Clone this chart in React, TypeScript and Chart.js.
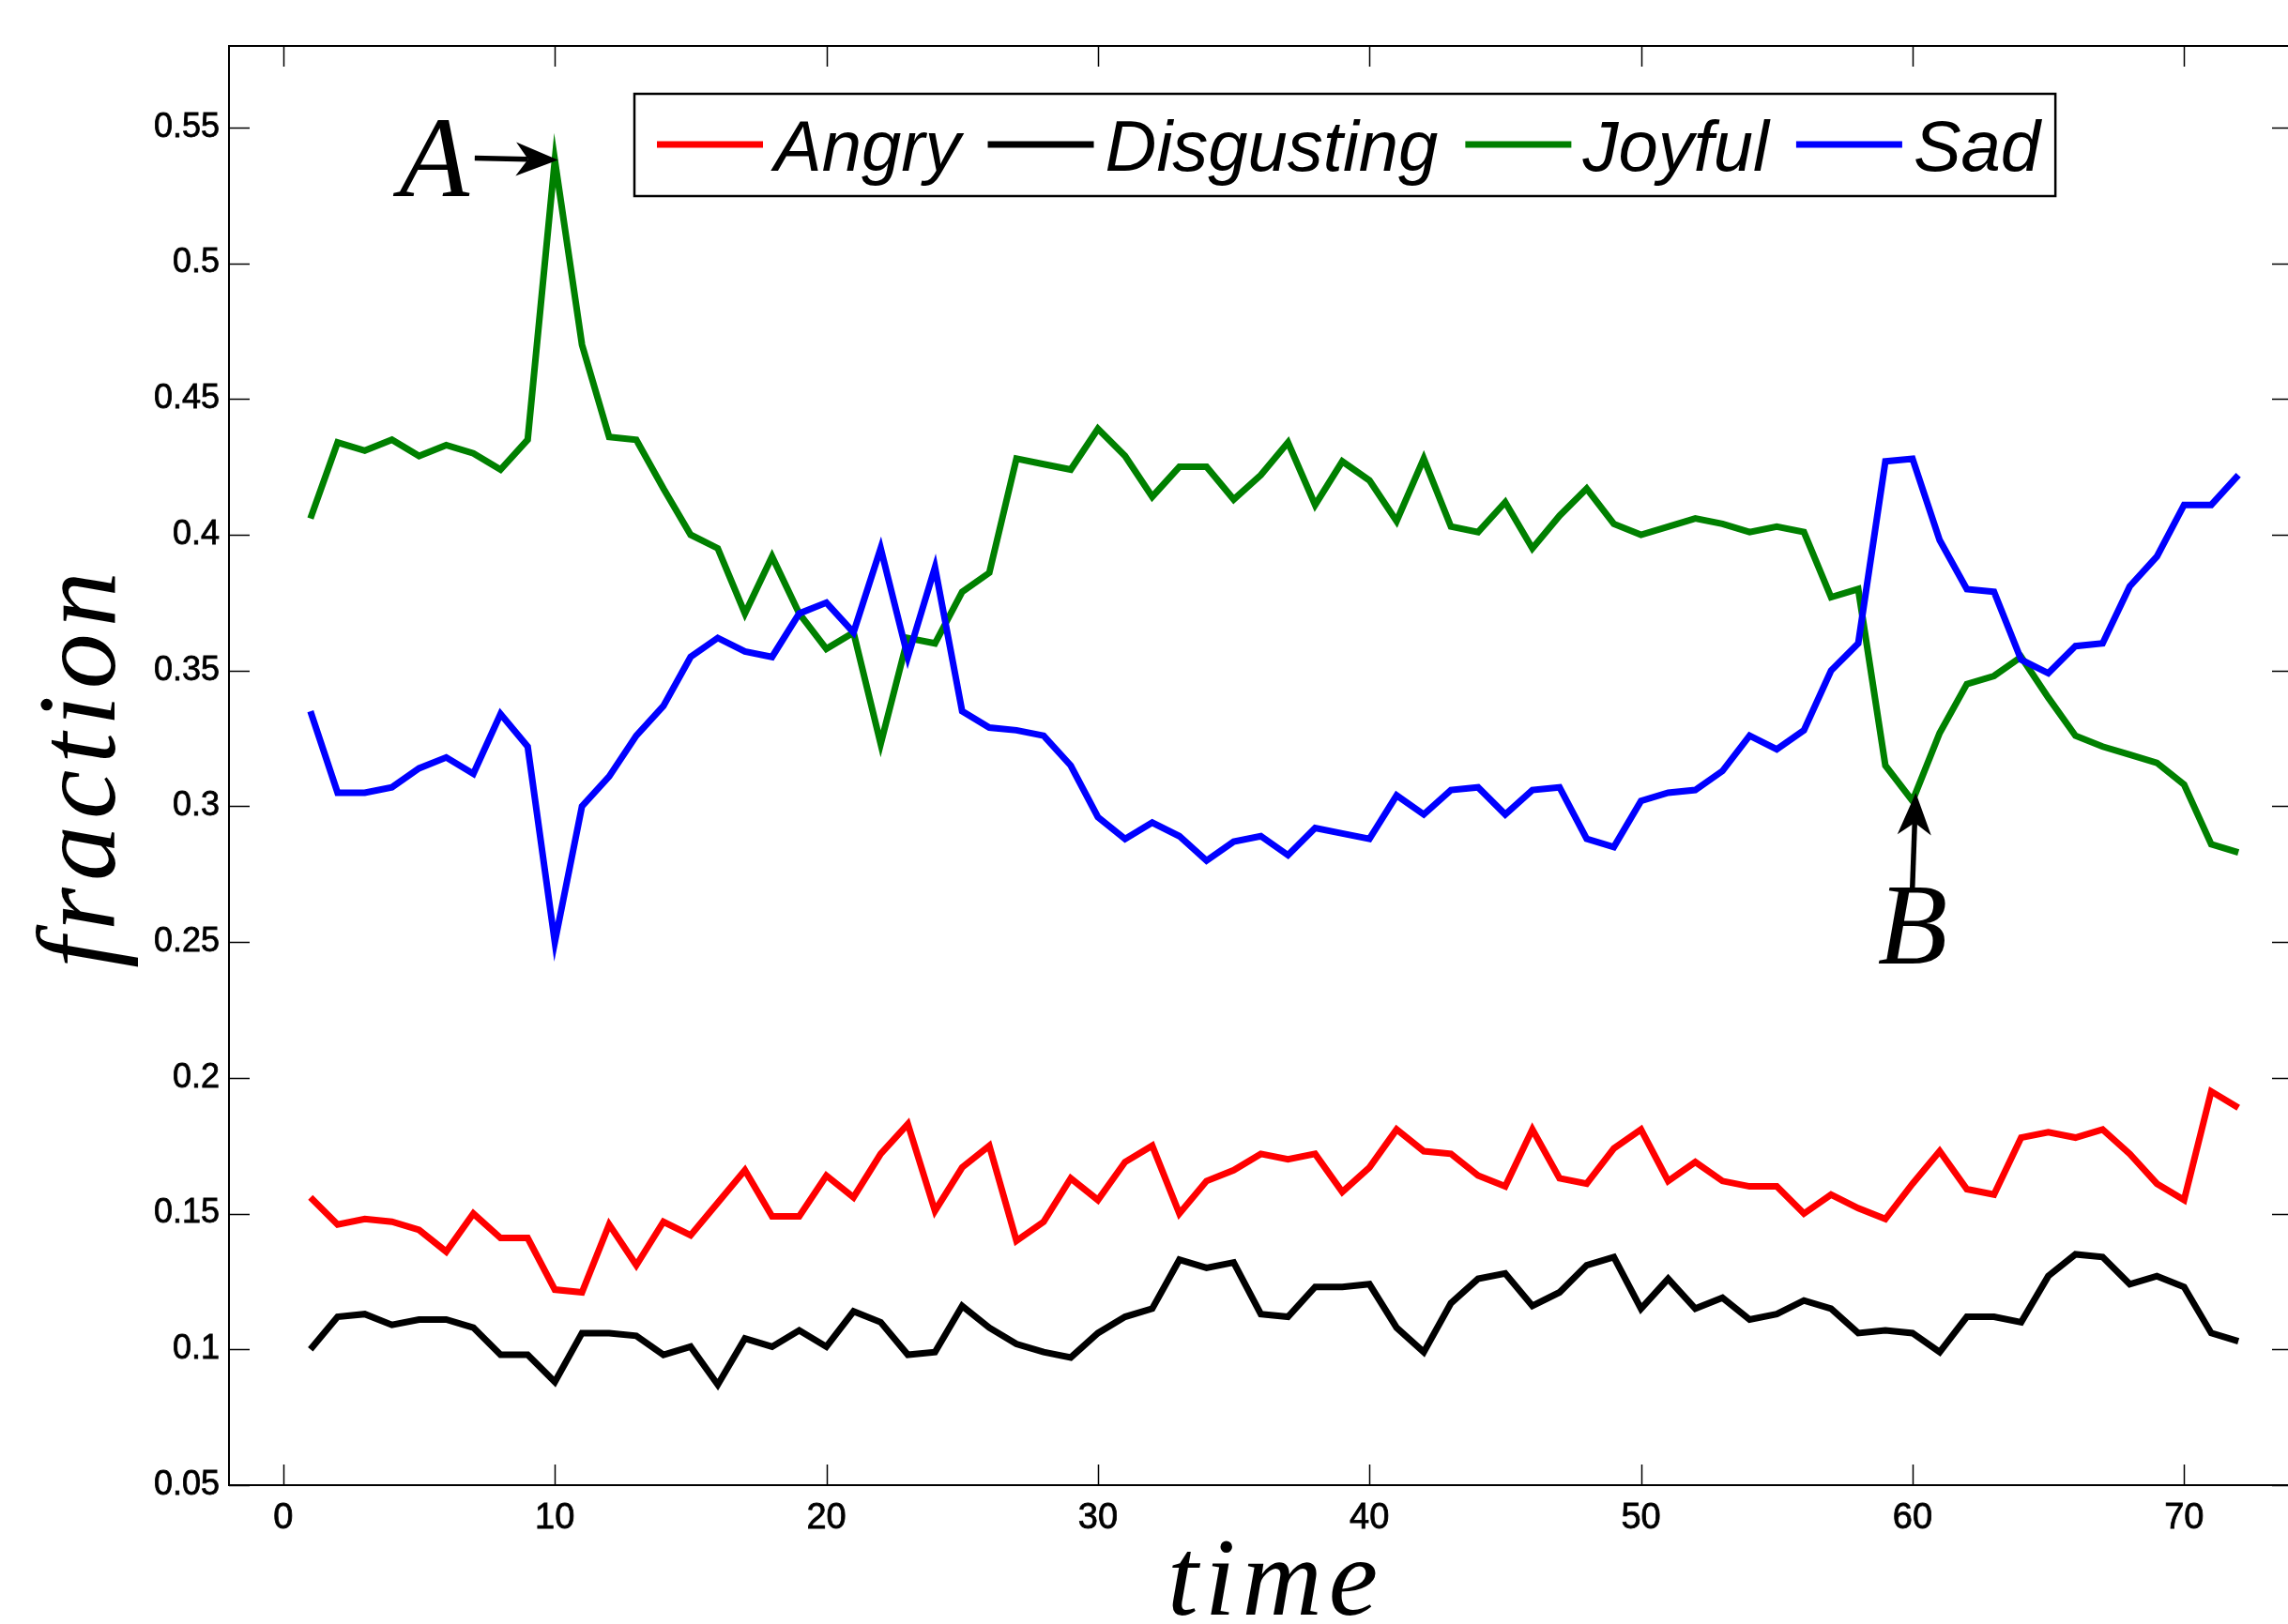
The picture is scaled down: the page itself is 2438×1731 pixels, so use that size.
import React, { useEffect, useRef } from "react";
import { Chart, registerables } from "chart.js";

Chart.register(...registerables);

// ---------------- data ----------------
const TIME = [
  1, 2, 3, 4, 5, 6, 7, 8, 9, 10, 11, 12, 13, 14, 15, 16, 17, 18, 19, 20, 21, 22, 23, 24,
  25, 26, 27, 28, 29, 30, 31, 32, 33, 34, 35, 36, 37, 38, 39, 40, 41, 42, 43, 44, 45, 46, 47, 48,
  49, 50, 51, 52, 53, 54, 55, 56, 57, 58, 59, 60, 61, 62, 63, 64, 65, 66, 67, 68, 69, 70, 71, 72,
];

const ANGRY = [
  0.156, 0.146, 0.148, 0.147, 0.144, 0.136, 0.150, 0.141, 0.141, 0.122,
  0.121, 0.146, 0.131, 0.147, 0.142, 0.154, 0.166, 0.149, 0.149, 0.164,
  0.156, 0.172, 0.183, 0.151, 0.167, 0.175, 0.140, 0.147, 0.163, 0.155,
  0.169, 0.175, 0.150, 0.162, 0.166, 0.172, 0.170, 0.172, 0.158, 0.167,
  0.181, 0.173, 0.172, 0.164, 0.160, 0.181, 0.163, 0.161, 0.174, 0.181,
  0.162, 0.169, 0.162, 0.160, 0.160, 0.150, 0.157, 0.152, 0.148, 0.161,
  0.173, 0.159, 0.157, 0.178, 0.180, 0.178, 0.181, 0.172, 0.161, 0.155,
  0.195, 0.189,
];

const DISGUSTING = [
  0.100, 0.112, 0.113, 0.109, 0.111, 0.111, 0.108, 0.098, 0.098, 0.088,
  0.106, 0.106, 0.105, 0.098, 0.101, 0.087, 0.104, 0.101, 0.107, 0.101,
  0.114, 0.110, 0.098, 0.099, 0.116, 0.108, 0.102, 0.099, 0.097, 0.106,
  0.112, 0.115, 0.133, 0.130, 0.132, 0.113, 0.112, 0.123, 0.123, 0.124,
  0.108, 0.099, 0.117, 0.126, 0.128, 0.116, 0.121, 0.131, 0.134, 0.115,
  0.126, 0.115, 0.119, 0.111, 0.113, 0.118, 0.115, 0.106, 0.107, 0.106,
  0.099, 0.112, 0.112, 0.110, 0.127, 0.135, 0.134, 0.124, 0.127, 0.123,
  0.106, 0.103,
];

const JOYFUL = [
  0.406, 0.434, 0.431, 0.435, 0.429, 0.433, 0.430, 0.424, 0.435, 0.538,
  0.470, 0.436, 0.435, 0.417, 0.400, 0.395, 0.371, 0.392, 0.371, 0.358,
  0.364, 0.323, 0.362, 0.360, 0.379, 0.386, 0.428, 0.426, 0.424, 0.439,
  0.429, 0.414, 0.425, 0.425, 0.413, 0.422, 0.434, 0.411, 0.427, 0.420,
  0.405, 0.428, 0.403, 0.401, 0.412, 0.395, 0.407, 0.417, 0.404, 0.400,
  0.403, 0.406, 0.404, 0.401, 0.403, 0.401, 0.377, 0.380, 0.315, 0.302,
  0.327, 0.345, 0.348, 0.355, 0.340, 0.326, 0.322, 0.319, 0.316, 0.308,
  0.286, 0.283,
];

const SAD = [
  0.335, 0.305, 0.305, 0.307, 0.314, 0.318, 0.312, 0.334, 0.322, 0.250,
  0.300, 0.311, 0.326, 0.337, 0.355, 0.362, 0.357, 0.355, 0.371, 0.375,
  0.364, 0.395, 0.355, 0.388, 0.335, 0.329, 0.328, 0.326, 0.315, 0.296,
  0.288, 0.294, 0.289, 0.280, 0.287, 0.289, 0.282, 0.292, 0.290, 0.288,
  0.304, 0.297, 0.306, 0.307, 0.297, 0.306, 0.307, 0.288, 0.285, 0.302,
  0.305, 0.306, 0.313, 0.326, 0.321, 0.328, 0.350, 0.360, 0.427, 0.428,
  0.398, 0.380, 0.379, 0.354, 0.349, 0.359, 0.360, 0.381, 0.392, 0.411,
  0.411, 0.422,
];

const SERIES_NAMES = ["Angry", "Disgusting", "Joyful", "Sad"];
const SERIES_VALUES = [ANGRY, DISGUSTING, JOYFUL, SAD];
const SERIES_COLORS = ["#ff0000", "#000000", "#008000", "#0000ff"];

const X_TICKS = [0, 10, 20, 30, 40, 50, 60, 70];
const Y_TICKS = [0.05, 0.1, 0.15, 0.2, 0.25, 0.3, 0.35, 0.4, 0.45, 0.5, 0.55];
const X_MIN = -2;
const X_MAX = 74;
const Y_MIN = 0.05;
const Y_MAX = 0.58;

const X_TITLE = "time";
const Y_TITLE = "fraction";

// annotation anchors in data coordinates: [time, fraction]
const ANNOTATIONS = [
  { label: "A", text: [5.56, 0.5248], tail: [7.05, 0.5387], tip: [10.12, 0.538] },
  { label: "B", text: [60.0, 0.2421], tail: [59.99, 0.2687], tip: [60.12, 0.305] },
];

// ---------------- plugins ----------------
const TICK_FONT = '"Liberation Sans", Arial, sans-serif';
const SERIF = '"Liberation Serif", "Times New Roman", serif';

const framePlugin = {
  id: "frame",
  beforeDatasetsDraw(chart: any) {
    const { ctx, chartArea: a, scales } = chart;
    const x = scales.x;
    const y = scales.y;
    const TL = 22;
    ctx.save();
    ctx.strokeStyle = "#000";
    ctx.lineWidth = 1.5;
    ctx.beginPath();
    for (const v of X_TICKS) {
      const px = Math.round(x.getPixelForValue(v)) + 0.5;
      ctx.moveTo(px, a.bottom);
      ctx.lineTo(px, a.bottom - TL);
      ctx.moveTo(px, a.top);
      ctx.lineTo(px, a.top + TL);
    }
    for (const v of Y_TICKS) {
      const py = Math.round(y.getPixelForValue(v)) + 0.5;
      ctx.moveTo(a.left, py);
      ctx.lineTo(a.left + TL, py);
      ctx.moveTo(a.right, py);
      ctx.lineTo(a.right - TL, py);
    }
    ctx.stroke();
    ctx.lineWidth = 2;
    ctx.strokeRect(a.left, a.top, a.right - a.left, a.bottom - a.top);
    ctx.restore();
  },
};

function drawArrow(ctx: CanvasRenderingContext2D, tx: number, ty: number, hx: number, hy: number) {
  const dx = hx - tx;
  const dy = hy - ty;
  const len = Math.hypot(dx, dy);
  const ux = dx / len;
  const uy = dy / len;
  const nx = -uy;
  const ny = ux;
  const L = 45;
  const W = 18;
  const N = 32;
  ctx.beginPath();
  ctx.moveTo(tx, ty);
  ctx.lineTo(hx - ux * N, hy - uy * N);
  ctx.lineWidth = 5.5;
  ctx.strokeStyle = "#000";
  ctx.stroke();
  ctx.beginPath();
  ctx.moveTo(hx, hy);
  ctx.lineTo(hx - ux * L + nx * W, hy - uy * L + ny * W);
  ctx.lineTo(hx - ux * N, hy - uy * N);
  ctx.lineTo(hx - ux * L - nx * W, hy - uy * L - ny * W);
  ctx.closePath();
  ctx.fillStyle = "#000";
  ctx.fill();
}

const annotationPlugin = {
  id: "annot",
  afterDatasetsDraw(chart: any) {
    const { ctx, scales } = chart;
    const x = scales.x;
    const y = scales.y;
    ctx.save();
    for (const an of ANNOTATIONS) {
      drawArrow(
        ctx,
        x.getPixelForValue(an.tail[0]),
        y.getPixelForValue(an.tail[1]),
        x.getPixelForValue(an.tip[0]),
        y.getPixelForValue(an.tip[1])
      );
      ctx.font = `italic 122px ${SERIF}`;
      ctx.textAlign = "center";
      ctx.textBaseline = "alphabetic";
      ctx.fillStyle = "#000";
      ctx.fillText(an.label, x.getPixelForValue(an.text[0]), y.getPixelForValue(an.text[1]));
    }
    ctx.restore();
  },
};

const legendPlugin = {
  id: "legendBox",
  afterDatasetsDraw(chart: any) {
    const { ctx, chartArea: a } = chart;
    const left = a.left + 432;
    const top = a.top + 51;
    const height = 109;
    const sample = 113;
    const gapText = 12;
    const gapItem = 29;
    const padL = 24;
    const padR = 16;
    ctx.save();
    ctx.font = `italic 76px ${TICK_FONT}`;
    const items = chart.data.datasets.map((ds: any) => ({
      label: ds.label as string,
      color: ds.borderColor as string,
      w: ctx.measureText(ds.label).width,
    }));
    let total = padL;
    items.forEach((it: any, i: number) => {
      total += sample + gapText + it.w + (i < items.length - 1 ? gapItem : 0);
    });
    total += padR;
    ctx.fillStyle = "#fff";
    ctx.fillRect(left, top, total, height);
    ctx.lineWidth = 2.5;
    ctx.strokeStyle = "#000";
    ctx.strokeRect(left, top, total, height);
    let cx = left + padL;
    const lineY = top + 54;
    const baseY = top + 82;
    for (const it of items) {
      ctx.beginPath();
      ctx.moveTo(cx, lineY);
      ctx.lineTo(cx + sample, lineY);
      ctx.lineWidth = 7;
      ctx.strokeStyle = it.color;
      ctx.stroke();
      cx += sample + gapText;
      ctx.fillStyle = "#000";
      ctx.textAlign = "left";
      ctx.textBaseline = "alphabetic";
      ctx.fillText(it.label, cx, baseY);
      cx += it.w + gapItem;
    }
    ctx.restore();
  },
};

const titlesPlugin = {
  id: "axisTitles",
  afterDraw(chart: any) {
    const { ctx, chartArea: a } = chart;
    ctx.save();
    ctx.fillStyle = "#000";
    ctx.font = `italic 118px ${SERIF}`;
    (ctx as any).letterSpacing = "7px";
    ctx.textAlign = "left";
    ctx.textBaseline = "alphabetic";
    const wx = ctx.measureText(X_TITLE).width;
    ctx.fillText(X_TITLE, (a.left + a.right) / 2 + 16 - wx / 2, a.bottom + 138);
    const wy = ctx.measureText(Y_TITLE).width;
    ctx.translate(a.left - 122, (a.top + a.bottom) / 2 + 1);
    ctx.rotate(-Math.PI / 2);
    ctx.fillText(Y_TITLE, -wy / 2, 0);
    ctx.restore();
  },
};

// ---------------- component ----------------
export default function App() {
  const ref = useRef<HTMLCanvasElement>(null);

  useEffect(() => {
    document.body.style.margin = "0";
    const datasets = SERIES_NAMES.map((name, i) => ({
      label: name,
      data: TIME.map((t, j) => ({ x: t, y: SERIES_VALUES[i][j] })),
      borderColor: SERIES_COLORS[i],
      backgroundColor: SERIES_COLORS[i],
      borderWidth: 7,
      pointRadius: 0,
      tension: 0,
      fill: false,
      borderJoinStyle: "miter" as const,
      order: SERIES_NAMES.length - i,
    }));

    const chart = new Chart(ref.current as HTMLCanvasElement, {
      type: "line",
      data: { datasets },
      options: {
        animation: false,
        responsive: false,
        maintainAspectRatio: false,
        events: [],
        layout: { padding: { top: 49, right: 17, left: 0, bottom: 0 } },
        plugins: { legend: { display: false }, tooltip: { enabled: false } },
        scales: {
          x: {
            type: "linear",
            min: X_MIN,
            max: X_MAX,
            grid: { display: false, drawTicks: false },
            border: { display: false },
            afterBuildTicks: (scale: any) => {
              scale.ticks = X_TICKS.map((v) => ({ value: v }));
            },
            afterFit: (scale: any) => {
              scale.height = 148;
            },
            ticks: {
              padding: 13,
              color: "#000",
              maxRotation: 0,
              autoSkip: false,
              textStrokeColor: "#000",
              textStrokeWidth: 0.8,
              font: { family: TICK_FONT, size: 38 },
              callback: (v: any) => String(v),
            },
          },
          y: {
            type: "linear",
            min: Y_MIN,
            max: Y_MAX,
            grid: { display: false, drawTicks: false },
            border: { display: false },
            afterBuildTicks: (scale: any) => {
              scale.ticks = Y_TICKS.map((v) => ({ value: v }));
            },
            afterFit: (scale: any) => {
              scale.width = 244;
            },
            ticks: {
              padding: 10,
              color: "#000",
              autoSkip: false,
              textStrokeColor: "#000",
              textStrokeWidth: 0.8,
              font: { family: TICK_FONT, size: 36 },
              callback: (v: any) => String(+Number(v).toFixed(2)),
            },
          },
        },
      },
      plugins: [framePlugin, annotationPlugin, legendPlugin, titlesPlugin],
    });
    return () => chart.destroy();
  }, []);

  return (
    <div style={{ width: 2438, height: 1731, overflow: "hidden", background: "#fff" }}>
      <canvas ref={ref} width={2460} height={1731} style={{ display: "block" }} />
    </div>
  );
}
